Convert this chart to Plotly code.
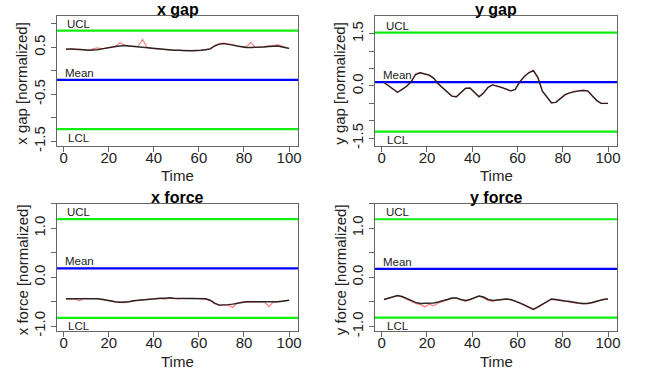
import plotly.graph_objects as go

W, H = 645, 370
FONT = "Liberation Sans, Arial, sans-serif"

# ---- data -----------------------------------------------------------------
time = list(range(1, 100, 2)) + [100]

x_gap_smooth = [0.46, 0.47, 0.46, 0.46, 0.45, 0.44, 0.44, 0.45, 0.47, 0.49,
                0.50, 0.52, 0.53, 0.54, 0.53, 0.52, 0.51, 0.50, 0.49, 0.48,
                0.47, 0.46, 0.45, 0.44, 0.44, 0.44, 0.43, 0.43, 0.43, 0.43,
                0.44, 0.45, 0.47, 0.53, 0.57, 0.58, 0.57, 0.55, 0.53, 0.51,
                0.50, 0.50, 0.50, 0.51, 0.51, 0.52, 0.53, 0.53, 0.51, 0.49, 0.48]
x_gap_raw = [0.46, 0.47, 0.47, 0.46, 0.45, 0.44, 0.47, 0.49, 0.47, 0.49,
             0.50, 0.52, 0.60, 0.55, 0.53, 0.52, 0.52, 0.67, 0.50, 0.48,
             0.47, 0.46, 0.45, 0.45, 0.44, 0.44, 0.43, 0.44, 0.43, 0.43,
             0.44, 0.45, 0.47, 0.54, 0.58, 0.59, 0.58, 0.56, 0.53, 0.51,
             0.51, 0.61, 0.50, 0.51, 0.52, 0.52, 0.54, 0.56, 0.52, 0.49, 0.48]

y_gap_smooth = [0.10, 0.00, -0.10, -0.18, -0.10, -0.01, 0.12, 0.33, 0.38, 0.35,
                0.31, 0.22, 0.06, -0.06, -0.18, -0.29, -0.31, -0.20, -0.07, -0.06,
                -0.19, -0.31, -0.20, -0.04, 0.03, 0.00, -0.04, -0.09, -0.14, -0.10,
                0.12, 0.27, 0.38, 0.44, 0.25, -0.15, -0.32, -0.48, -0.47, -0.35,
                -0.25, -0.20, -0.16, -0.14, -0.13, -0.14, -0.28, -0.42, -0.50, -0.50, -0.50]
y_gap_raw = [0.11, 0.00, -0.09, -0.18, -0.11, -0.01, 0.13, 0.35, 0.39, 0.34,
             0.31, 0.23, 0.05, -0.06, -0.19, -0.29, -0.32, -0.20, -0.06, -0.06,
             -0.20, -0.31, -0.19, -0.04, 0.04, 0.00, -0.05, -0.09, -0.15, -0.10,
             0.13, 0.27, 0.39, 0.45, 0.24, -0.15, -0.33, -0.49, -0.46, -0.35,
             -0.26, -0.20, -0.15, -0.14, -0.12, -0.14, -0.29, -0.42, -0.51, -0.49, -0.50]

x_force_smooth = [-0.44, -0.44, -0.43, -0.43, -0.43, -0.43, -0.43, -0.44, -0.45, -0.47,
                  -0.49, -0.50, -0.51, -0.51, -0.50, -0.48, -0.47, -0.46, -0.45, -0.44,
                  -0.44, -0.43, -0.43, -0.42, -0.43, -0.43, -0.43, -0.43, -0.43, -0.43,
                  -0.44, -0.44, -0.47, -0.53, -0.57, -0.57, -0.56, -0.55, -0.53, -0.51,
                  -0.50, -0.50, -0.50, -0.50, -0.50, -0.50, -0.51, -0.50, -0.49, -0.48, -0.47]
x_force_raw = [-0.44, -0.45, -0.44, -0.48, -0.43, -0.43, -0.44, -0.44, -0.46, -0.47,
               -0.49, -0.51, -0.51, -0.52, -0.50, -0.48, -0.47, -0.46, -0.45, -0.45,
               -0.44, -0.44, -0.45, -0.43, -0.44, -0.45, -0.43, -0.44, -0.43, -0.43,
               -0.44, -0.45, -0.48, -0.54, -0.57, -0.57, -0.57, -0.62, -0.53, -0.51,
               -0.50, -0.50, -0.51, -0.50, -0.50, -0.60, -0.51, -0.50, -0.49, -0.48, -0.47]

y_force_smooth = [-0.45, -0.42, -0.39, -0.37, -0.39, -0.43, -0.47, -0.51, -0.53, -0.53,
                  -0.53, -0.52, -0.50, -0.48, -0.45, -0.42, -0.42, -0.45, -0.47, -0.45,
                  -0.41, -0.38, -0.40, -0.45, -0.47, -0.46, -0.45, -0.44, -0.45, -0.48,
                  -0.52, -0.56, -0.60, -0.65, -0.60, -0.55, -0.49, -0.44, -0.45, -0.47,
                  -0.48, -0.49, -0.51, -0.52, -0.53, -0.53, -0.51, -0.48, -0.46, -0.44, -0.44]
y_force_raw = [-0.45, -0.42, -0.40, -0.37, -0.40, -0.44, -0.48, -0.53, -0.55, -0.60,
               -0.55, -0.58, -0.52, -0.49, -0.46, -0.43, -0.42, -0.46, -0.49, -0.45,
               -0.42, -0.38, -0.42, -0.47, -0.49, -0.46, -0.46, -0.44, -0.46, -0.48,
               -0.53, -0.57, -0.61, -0.65, -0.61, -0.55, -0.50, -0.45, -0.46, -0.48,
               -0.49, -0.50, -0.52, -0.53, -0.54, -0.53, -0.52, -0.49, -0.46, -0.45, -0.44]

titles = ["x gap", "y gap", "x force", "y force"]
y_titles = ["x gap [normalized]", "y gap [normalized]",
            "x force [normalized]", "y force [normalized]"]
smooth_series = [x_gap_smooth, y_gap_smooth, x_force_smooth, y_force_smooth]
raw_series = [x_gap_raw, y_gap_raw, x_force_raw, y_force_raw]
ucl = [0.86, 1.53, 1.19, 1.18]
mean = [-0.19, 0.11, 0.18, 0.17]
lcl = [-1.24, -1.31, -0.83, -0.82]
y_ranges = [[-1.59, 1.17], [-1.71, 2.01], [-1.10, 1.51], [-1.09, 1.50]]
y_tickvals = [[-1.5, -1.0, -0.5, 0.0, 0.5, 1.0],
              [-1.5, -1.0, -0.5, 0.0, 0.5, 1.0, 1.5],
              [-1.0, -0.5, 0.0, 0.5, 1.0, 1.5],
              [-1.0, -0.5, 0.0, 0.5, 1.0, 1.5]]
y_ticktext = [["-1.5", "", "-0.5", "", "0.5", ""],
              ["-1.5", "", "", "0.0", "", "", "1.5"],
              ["-1.0", "", "0.0", "", "1.0", ""],
              ["-1.0", "", "0.0", "", "1.0", ""]]
x_tickvals = [0, 20, 40, 60, 80, 100]
x_range = [-2.96, 103.96]

# ---- layout (pixel boxes) --------------------------------------------------
boxes = [(57, 298, 16, 145.5), (375, 617, 16, 145.5),
         (57, 298, 203.5, 331), (375, 617, 203.5, 331)]


def px(xp):
    return xp / W


def py(yp):
    return 1 - yp / H


fig = go.Figure()
annotations = []
lay = {}
for i in range(4):
    x0, x1, y0, y1 = boxes[i]
    xd = [px(x0), px(x1)]
    yd = [py(y1), py(y0)]
    sfx = "" if i == 0 else str(i + 1)
    xa, ya = "x" + sfx, "y" + sfx
    for val, col in [(ucl[i], "#11EE11"), (mean[i], "#0000FF"), (lcl[i], "#11EE11")]:
        fig.add_trace(go.Scatter(x=x_range, y=[val, val], mode="lines",
                                 line=dict(color=col, width=2.2),
                                 xaxis=xa, yaxis=ya, showlegend=False, hoverinfo="skip"))
    fig.add_trace(go.Scatter(x=time, y=raw_series[i], mode="lines",
                             line=dict(color="rgba(255,40,40,0.6)", width=1.2),
                             xaxis=xa, yaxis=ya, showlegend=False))
    fig.add_trace(go.Scatter(x=time, y=smooth_series[i], mode="lines",
                             line=dict(color="rgba(20,20,20,0.9)", width=1.4),
                             xaxis=xa, yaxis=ya, showlegend=False))
    axis_common = dict(showgrid=False, zeroline=False, showline=True, mirror=True,
                       linecolor="#666666", linewidth=1, ticks="outside", ticklen=5,
                       automargin=False,
                       tickcolor="#666666", tickfont=dict(family=FONT, size=15, color="#222222"))
    lay["xaxis" + sfx] = dict(domain=xd, range=x_range, anchor=ya,
                              tickvals=x_tickvals, ticklabelstandoff=-7, **axis_common)
    lay["yaxis" + sfx] = dict(domain=yd, range=y_ranges[i], anchor=xa,
                              tickvals=y_tickvals[i], ticktext=y_ticktext[i],
                              tickangle=-90, **axis_common)
    annotations.append(dict(text="<b>" + titles[i] + "</b>", xref="paper", yref="paper",
                            x=px((x0 + x1) / 2), y=py(y0 - 6), showarrow=False,
                            xanchor="center", yanchor="middle",
                            font=dict(family=FONT, size=16, color="#000000")))
    annotations.append(dict(text="Time", xref="paper", yref="paper",
                            x=px((x0 + x1) / 2), y=py(y1 + 30), showarrow=False,
                            xanchor="center", yanchor="middle",
                            font=dict(family=FONT, size=15, color="#222222")))
    annotations.append(dict(text=y_titles[i], xref="paper", yref="paper",
                            x=px(x0 - 35), y=py((y0 + y1) / 2 + 3), showarrow=False,
                            xanchor="center", yanchor="middle", textangle=-90,
                            font=dict(family=FONT, size=15, color="#222222")))
    for lab, val, sh in [("UCL", ucl[i], 7), ("Mean", mean[i], 7), ("LCL", lcl[i], -8.5)]:
        annotations.append(dict(text=lab, xref=xa, yref=ya, x=7, y=val, yshift=sh,
                                showarrow=False, xanchor="center", yanchor="middle",
                                font=dict(family=FONT, size=11.5, color="#222222")))

fig.update_layout(width=W, height=H, margin=dict(l=0, r=0, t=0, b=0),
                  paper_bgcolor="white", plot_bgcolor="white",
                  annotations=annotations, **lay)
fig.write_html("out.html", config={"displayModeBar": False},
               post_script="document.body.style.margin='0';document.body.style.overflow='hidden';")
